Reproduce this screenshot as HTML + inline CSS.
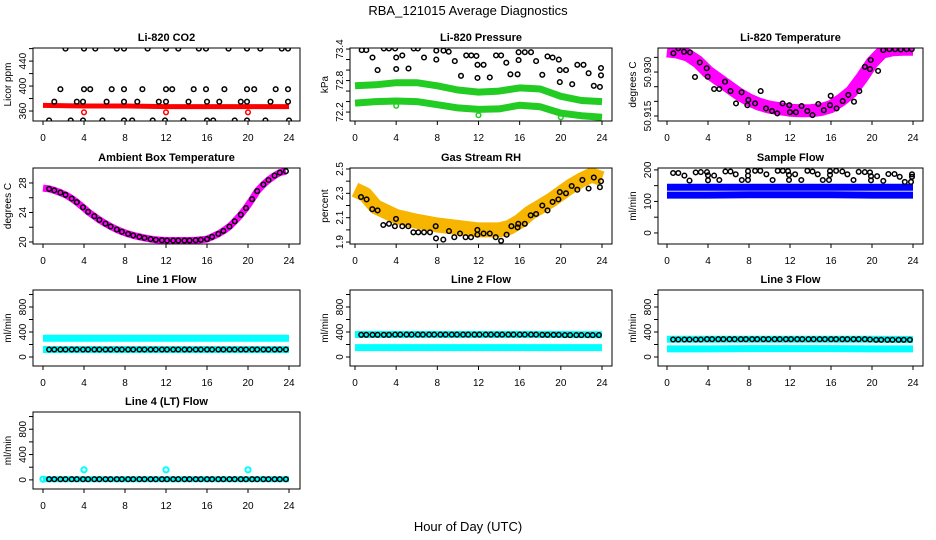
<!DOCTYPE html>
<html><head><meta charset="utf-8"><style>
html,body{margin:0;padding:0;background:#fff}
svg{display:block;font-family:"Liberation Sans",sans-serif}
</style></head><body>
<svg id="c" width="936" height="540" viewBox="0 0 936 540" xmlns="http://www.w3.org/2000/svg">
<text x="468" y="15" text-anchor="middle" font-size="13">RBA_121015  Average Diagnostics</text>
<text x="468" y="531" text-anchor="middle" font-size="13">Hour of Day (UTC)</text>
</svg>
<script>
const xTicks = [0,4,8,12,16,20,24];
const flowHours = [0.6,1.1,1.7,2.2,2.8,3.3,3.9,4.4,5.0,5.5,6.1,6.6,7.2,7.7,8.3,8.8,9.4,9.9,10.5,11.0,11.6,12.1,12.7,13.2,13.8,14.3,14.9,15.4,16.0,16.5,17.1,17.6,18.2,18.7,19.3,19.8,20.4,20.9,21.5,22.0,22.6,23.1,23.7];
const bandHours = [0,4,8,12,16,20,24];

// CO2
const co2Hours = [2.2,4.0,5.1,7.2,7.9,10.2,12.0,13.2,15.2,15.9,18.1,19.9,21.2,23.3,23.9, 1.7,4,4.6,6.7,7.9,9.7,12,12.6,14.7,15.9,17.7,19.9,20.6,22.7,23.9, 1.1,3.3,3.9,6.2,7.9,9.2,11.3,12,14.2,16,17.2,19.3,19.9,22.2,23.9, 0.6,2.7,3.9,5.8,7.9,8.7,10.7,11.9,13.7,16,16.6,18.7,19.9,21.7,24];
const co2Values = [460,460,460,460,460,460,460,460,460,460,460,460,460,460,460, 395,395,395,395,395,395,395,395,395,395,395,395,395,395,395, 375,375,375,375,375,375,375,375,375,375,375,375,375,375,375, 345,345,345,345,345,345,345,345,345,345,345,345,345,345,345];
const co2Band = [369,368,368,367,367,367,367];
const co2OutHours = [4,12,20];
const co2OutValues = [358,358,358];

// Pressure
const presHours = [0.65,1.1,1.7,2.2,2.8,3.3,3.9,4.0,4.6,4.0,5.2,5.7,6.1,6.7,7.9,7.9,8.6,9.1,9.7,10.3,10.8,11.3,11.8,11.9,12.5,11.9,13.1,13.7,14.2,14.7,15.1,15.8,15.9,15.9,16.5,17.1,17.6,18.2,18.7,19.2,19.8,19.9,19.9,20.5,21.1,21.6,22.2,22.7,23.2,23.8,23.9,23.9];
const presValues = [73.38,73.38,73.24,73.0,73.41,73.41,73.41,73.24,73.28,73.02,73.03,73.41,73.41,73.24,73.2,73.37,73.37,73.35,73.17,72.89,73.28,73.28,73.27,73.1,73.1,72.85,72.86,73.28,73.28,73.14,72.92,72.92,73.19,73.34,73.34,73.34,73.17,72.91,73.26,73.24,73.2,73.0,72.77,73.0,72.73,73.1,73.1,72.94,72.7,72.68,72.9,73.04];
const presBandHours = [0,2,4,6,8,10,12,14,16,18,20,22,24];
const presUpper = [72.70,72.72,72.76,72.76,72.70,72.62,72.58,72.60,72.66,72.64,72.50,72.42,72.40];
const presLower = [72.37,72.40,72.41,72.40,72.34,72.28,72.25,72.26,72.33,72.30,72.18,72.13,72.10];
const presOutHours = [4,12,20];
const presOutValues = [72.32,72.14,72.1];

// Li-820 temperature
const tempHours = [0.62,1.1,1.66,2.24,2.73,3.2,3.87,3.97,4.6,5.1,5.66,6.2,6.73,7.28,7.84,7.93,8.6,9.14,9.66,10.24,10.76,11.28,11.93,12.0,12.58,13.13,13.69,14.2,14.76,15.3,15.9,15.97,16.55,17.14,17.69,18.24,18.76,19.31,19.8,19.87,20.6,21.1,21.7,22.25,22.8,23.38,23.87];
const tempValues = [50.9364,50.9381,50.9369,50.9367,50.9283,50.9333,50.9313,50.9284,50.9242,50.9242,50.9267,50.9235,50.9193,50.9231,50.9187,50.9205,50.9193,50.9235,50.9176,50.9167,50.9159,50.9193,50.9187,50.9163,50.9163,50.9184,50.9167,50.9153,50.9191,50.917,50.9187,50.9219,50.9176,50.9201,50.9222,50.9199,50.9235,50.9318,50.931,50.9341,50.9304,50.9375,50.9378,50.9378,50.9377,50.9378,50.9378];
const tempBandHours = [0,1,2,3,4,5,6,7,8,9,10,11,12,13,14,15,16,17,18,19,20,21,22,23,24];
const tempBand = [50.9372,50.9368,50.9358,50.9335,50.9300,50.9275,50.9250,50.9225,50.9205,50.9190,50.9180,50.9175,50.9170,50.9168,50.9168,50.9172,50.9182,50.9205,50.9233,50.9280,50.9332,50.9368,50.9376,50.9378,50.9378];

// Ambient
const ambValues = [27.2,27.0,26.7,26.4,25.9,25.4,24.7,24.1,23.5,23.0,22.5,22.1,21.7,21.4,21.1,20.9,20.7,20.55,20.4,20.3,20.25,20.2,20.2,20.2,20.2,20.2,20.25,20.3,20.4,20.7,21.1,21.5,22.1,22.8,23.7,24.6,25.8,26.9,27.8,28.4,29.0,29.4,29.6];

// RH
const rhHours = [0.58,1.13,1.68,2.2,2.75,3.3,3.88,3.98,4.6,5.18,5.67,6.15,6.7,7.29,7.84,7.87,8.58,9.13,9.65,10.2,10.75,11.27,11.89,11.89,12.5,13.1,13.67,14.2,14.73,15.2,15.8,15.87,16.5,17.07,17.6,18.2,18.7,19.2,19.76,19.9,20.5,21.06,21.6,22.1,22.7,23.2,23.8,23.9];
const rhValues = [2.27,2.25,2.17,2.16,2.04,2.05,2.03,2.09,2.03,2.03,1.98,1.98,1.98,1.98,2.03,1.93,1.92,1.99,1.94,1.97,1.94,1.94,2.0,1.96,1.97,1.97,1.94,1.91,1.96,2.03,2.02,2.05,2.05,2.12,2.13,2.2,2.16,2.23,2.25,2.31,2.30,2.36,2.33,2.41,2.34,2.43,2.35,2.40];
const rhBandHours = [0,1,2,3,4,6,8,10,12,14,15,16,17,18,19,20,21,22,23,24];
const rhBand = [2.33,2.29,2.19,2.15,2.11,2.07,2.04,2.02,2.0,2.0,2.02,2.07,2.14,2.19,2.24,2.30,2.36,2.41,2.45,2.42];

// Sample flow
const sfHours = [0.6,1.1,1.7,2.2,2.8,3.3,3.9,4.0,4.0,4.6,5.1,5.7,6.2,6.7,7.3,7.9,7.9,7.9,8.6,9.1,9.7,10.3,10.8,11.3,11.8,11.9,11.9,12.5,13.1,13.7,14.2,14.7,15.2,15.8,15.9,15.9,16.5,17.1,17.6,18.2,18.7,19.3,19.8,19.9,19.9,20.5,21.1,21.6,22.2,22.7,23.2,23.8,23.9,23.9];
const sfValues = [190,190,182,166,192,193,193,183,167,182,168,195,195,186,168,168,182,196,197,197,186,168,197,197,196,184,168,186,168,197,195,186,168,168,184,196,197,195,186,168,194,193,192,180,167,180,165,187,187,178,162,162,178,186];
const sfBandA = [145,145,145,145,145,145,145];
const sfBandB = [120,120,121,121,121,120,120];

// Line flows
const l1Cyan = [300,300,300,300,300,300,300];
const l1CyanLo = [120,120,120,120,120,120,120];
const l1Black = [120,120,120,120,120,120,120,120,120,120,120,120,120,120,120,120,120,120,120,120,120,120,120,120,120,120,120,120,120,120,120,120,120,120,120,120,120,120,120,120,120,120,120];
const l2CyanHi = [360,360,360,360,360,360,355];
const l2CyanLo = [150,150,150,150,150,150,150];
const l2Black = [355,355,355,355,355,355,358,358,358,358,358,358,358,358,358,358,358,358,358,358,358,358,358,358,358,358,358,358,358,358,358,358,355,355,355,355,350,350,350,350,350,350,350];
const l3CyanHi = [285,285,285,285,285,285,280];
const l3CyanLo = [130,130,135,135,135,130,130];
const l3Black = [280,280,280,280,280,280,285,285,285,285,285,285,285,285,285,285,285,285,285,285,285,285,285,285,285,285,285,285,285,285,285,285,285,285,285,280,275,275,275,275,275,275,275];
const l4Cyan = [10,10,10,10,10,10,10];
const l4Black = [10,10,10,10,10,10,10,10,10,10,10,10,10,10,10,10,10,10,10,10,10,10,10,10,10,10,10,10,10,10,10,10,10,10,10,10,10,10,10,10,10,10,10];
const l4OutHours = [0,4,12,20];
const l4OutValues = [10,160,160,160];

const flowTicks = [0,200,400,600,800,1000];
const flowLabels = ['0','400','800'];

const NS = 'http://www.w3.org/2000/svg';
const svg = document.getElementById('c');
function el(tag, attrs, parent){
  const e = document.createElementNS(NS, tag);
  for (const k in attrs) e.setAttribute(k, attrs[k]);
  (parent||svg).appendChild(e);
  return e;
}
const cols = [{l:33,r:300,x0:43,x24:289},{l:350,r:612,x0:355,x24:602},{l:658,r:923,x0:667,x24:913}];
const rows = [{t:48,b:121},{t:168,b:244},{t:290,b:366},{t:412,b:489}];

function makePanel(name, title, ylab, col, row, ymin, ymax, yticks, ylabels){
  const c = cols[col], r = rows[row];
  const g = el('g', {});
  
  
  const xs = h => c.x0 + h * (c.x24 - c.x0) / 24;
  const ys = v => r.b - (v - ymin) / (ymax - ymin) * (r.b - r.t);
  const clipId = 'clip-' + name;
  const cp = el('clipPath', {id: clipId}, g);
  el('rect', {x:c.l, y:r.t, width:c.r-c.l, height:r.b-r.t}, cp);
  const plot = el('g', {'clip-path':'url(#'+clipId+')'}, g);
  
  
  const fr = el('rect', {x:c.l, y:r.t, width:c.r-c.l, height:r.b-r.t, fill:'none', stroke:'#000', 'stroke-width':1}, g);
  
  
  const t = el('text', {x:(c.l+c.r)/2, y:r.t-7, 'text-anchor':'middle', 'font-size':11, 'font-weight':'bold'}, g);
  t.textContent = title;
  
  
  xTicks.forEach(h => {
    el('line', {x1:xs(h), x2:xs(h), y1:r.b, y2:r.b+4, stroke:'#000'}, g);
    const tx = el('text', {x:xs(h), y:r.b+20, 'text-anchor':'middle', 'font-size':10}, g);
    tx.textContent = String(h);
    
    
  });
  yticks.forEach(v => {
    el('line', {x1:c.l-4, x2:c.l, y1:ys(v), y2:ys(v), stroke:'#000'}, g);
  });
  ylabels.forEach(s => {
    const v = parseFloat(s);
    const tx = el('text', {x:c.l-7, y:ys(v), 'text-anchor':'middle', 'font-size':10, transform:'rotate(-90 '+(c.l-7)+' '+ys(v)+')'}, g);
    tx.textContent = s;
    
    
  });
  const yl = el('text', {x:c.l-22, y:(r.t+r.b)/2, 'text-anchor':'middle', 'font-size':10, transform:'rotate(-90 '+(c.l-22)+' '+((r.t+r.b)/2)+')'}, g);
  yl.textContent = ylab;
  
  
  return {plot, xs, ys};
}
function band(p, hours, vals, color, w, nm){
  const d = hours.map((h,i)=>(i?'L':'M')+p.xs(h).toFixed(1)+' '+p.ys(vals[i]).toFixed(1)).join(' ');
  const e = el('path', {d, fill:'none', stroke:color, 'stroke-width':w, 'stroke-linejoin':'round', 'stroke-linecap':'butt'}, p.plot);
  
  
}
function pts(p, hours, vals, color, nm, r, sw){
  hours.forEach((h,i)=>{
    const e = el('circle', {cx:p.xs(h).toFixed(1), cy:p.ys(vals[i]).toFixed(1), r:r||2.3, fill:'none', stroke:color, 'stroke-width':sw||1.5}, p.plot);
    
    
  });
}

let p;
p = makePanel('co2', 'Li-820 CO2', 'Licor ppm', 0, 0, 344, 461, [360,380,400,420,440,460], ['360','400','440']);
band(p, bandHours, co2Band, '#ff0000', 5, 'co2-red-band');
pts(p, co2OutHours, co2OutValues, '#ff0000', 'co2-red-outlier');
pts(p, co2Hours, co2Values, '#000', 'co2-point');

p = makePanel('pressure', 'Li-820 Pressure', 'kPa', 1, 0, 72.03, 73.42, [72.2,72.4,72.6,72.8,73.0,73.2,73.4], ['72.2','72.8','73.4']);
band(p, presBandHours, presUpper, '#22cc22', 7, 'pressure-upper-band');
band(p, presBandHours, presLower, '#22cc22', 7, 'pressure-lower-band');
pts(p, presOutHours, presOutValues, '#22cc22', 'pressure-outlier');
pts(p, presHours, presValues, '#000', 'pressure-point');

p = makePanel('li820-temp', 'Li-820 Temperature', 'degrees C', 2, 0, 50.9133, 50.9382, [50.915,50.920,50.925,50.930,50.935], ['50.915','50.930']);
band(p, tempBandHours, tempBand, '#ff00ff', 13, 'temp-magenta-band');
pts(p, tempHours, tempValues, '#000', 'temp-point');

p = makePanel('ambient', 'Ambient Box Temperature', 'degrees C', 0, 1, 19.73, 30.03, [20,22,24,26,28], ['20','24','28']);
band(p, [0].concat(flowHours), [27.3].concat(ambValues), '#ff00ff', 7, 'ambient-magenta-band');
pts(p, flowHours, ambValues, '#000', 'ambient-point');

p = makePanel('rh', 'Gas Stream RH', 'percent', 1, 1, 1.884, 2.508, [1.9,2.0,2.1,2.2,2.3,2.4,2.5], ['1.9','2.1','2.3','2.5']);
band(p, rhBandHours, rhBand, '#f7b500', 15, 'rh-orange-band');
pts(p, rhHours, rhValues, '#000', 'rh-point');

p = makePanel('sample-flow', 'Sample Flow', 'ml/min', 2, 1, -35, 206, [0,50,100,150,200], ['0','100','200']);
band(p, bandHours, sfBandA, '#0000ff', 7, 'sample-flow-band-upper');
band(p, bandHours, sfBandB, '#0000ff', 7, 'sample-flow-band-lower');
pts(p, sfHours, sfValues, '#000', 'sample-flow-point');

p = makePanel('line1', 'Line 1 Flow', 'ml/min', 0, 2, -144, 1072, flowTicks, flowLabels);
band(p, bandHours, l1Cyan, '#00ffff', 7, 'line1-cyan-band');
band(p, bandHours, l1CyanLo, '#00ffff', 7, 'line1-cyan-band-low');
pts(p, flowHours, l1Black, '#000', 'line1-point');

p = makePanel('line2', 'Line 2 Flow', 'ml/min', 1, 2, -144, 1072, flowTicks, flowLabels);
band(p, bandHours, l2CyanHi, '#00ffff', 7, 'line2-cyan-band-high');
band(p, bandHours, l2CyanLo, '#00ffff', 7, 'line2-cyan-band-low');
pts(p, flowHours, l2Black, '#000', 'line2-point');

p = makePanel('line3', 'Line 3 Flow', 'ml/min', 2, 2, -144, 1072, flowTicks, flowLabels);
band(p, bandHours, l3CyanHi, '#00ffff', 7, 'line3-cyan-band-high');
band(p, bandHours, l3CyanLo, '#00ffff', 7, 'line3-cyan-band-low');
pts(p, flowHours, l3Black, '#000', 'line3-point');

p = makePanel('line4', 'Line 4 (LT) Flow', 'ml/min', 0, 3, -144, 1072, flowTicks, flowLabels);
band(p, bandHours, l4Cyan, '#00ffff', 6, 'line4-cyan-band');
pts(p, l4OutHours, l4OutValues, '#00ffff', 'line4-cyan-outlier', 2.6, 2);
pts(p, flowHours, l4Black, '#000', 'line4-point');
</script>
</body></html>
